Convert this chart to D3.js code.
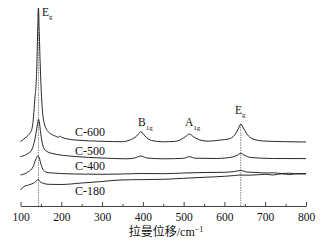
<!DOCTYPE html>
<html>
<head>
<meta charset="utf-8">
<script src="https://cdn.jsdelivr.net/npm/d3@7"></script>
<style>
  body { margin: 0; background: #fff; }
  text { font-family: "Liberation Serif", "Noto Sans CJK SC", serif; fill: #111; }
</style>
</head>
<body>
<div id="chart"></div>
<script>
// raman spectra (intensity in arbitrary units)
const c600Shift = [100,115,123,129,135,140,142,144,146,148.5,152,158,168,185,193,197,201,234,300,350,368,385,395,405,421,450,480,491,505,514,525,540,560,590,610,625,635,640,645,655,670,695,750,800];
const c600Int   = [64.5,69.3,72.7,79,106,139,173,198,173,139,106,83,74.3,70,68.7,70,68.7,66,64.7,64.3,66,70,74.3,70,65.5,64.2,64.7,66,69.5,72,69,66,64.8,66,67,71,78,82,79,72,67,65,64.3,64];

const c500Shift = [100,119,127.5,133,138,142,144,146,149.5,153.5,160,176.5,234,300,360,380,395,410,450,500,514,528,580,620,632,640,648,665,720,800];
const c500Int   = [49.3,52.7,56,62.7,72.7,82.7,86.7,84.3,72.7,62.7,56,52.7,49.5,48,47.2,48,50,48,47.2,47.7,49.3,47.8,47.5,49,51,52.7,51,48.5,47.5,47.4];

const c400Shift = [100,119,131,137,142,145,149.5,156,168,234,300,350,400,450,500,550,600,625,640,655,680,700,720,740,760,780,800];
const c400Int   = [31,34.3,39.3,46,50,49.3,42.7,36,33.3,32,31.7,32,32.5,32.3,33,33.5,33.7,34.5,35.5,34,33.5,33,33.2,32.5,32.8,32,32.4];

const c180Shift = [100,108,120,131,137,141,144,148,156,168,200,250,300,344,400,450,500,550,600,625,640,655,680,700,720,740,760,780,800];
const c180Int   = [16,19.3,21,22.7,24.3,26,26.5,24.3,22.7,21.7,21.5,23,24.5,26,26.4,26.7,27.7,28.7,29.7,30.5,31,30.8,31.2,31.7,31,32.2,31.4,32.5,32];

const sampleNames = ["C-600", "C-500", "C-400", "C-180"];
const xTicks = [100, 200, 300, 400, 500, 600, 700, 800];
const xMinorTicks = [150, 250, 350, 450, 550, 650, 750];
const markerShifts = [144, 640];   // dashed guide lines
const peakNames = [["E", "g", 144], ["B", "1g", 395], ["A", "1g", 514], ["E", "g", 640]];

const svgWidth = 326, svgHeight = 245;

const svg = d3.select("#chart").append("svg")
    .attr("width", svgWidth)
    .attr("height", svgHeight);

const x = d3.scaleLinear().domain([100, 800]).range([20.5, 306]);
const y = d3.scaleLinear().domain([0, 200]).range([206, 6]);

const series = [
    [c600Shift, c600Int],
    [c500Shift, c500Int],
    [c400Shift, c400Int],
    [c180Shift, c180Int]
];

// dashed guides first so the curves sit on top
markerShifts.forEach(s => {
    const i = c600Shift.indexOf(s);
    svg.append("line")
        .attr("x1", x(s)).attr("x2", x(s))
        .attr("y1", y(0)).attr("y2", y(c600Int[i]))
        .attr("stroke", "#666")
        .attr("stroke-width", 0.8)
        .attr("stroke-dasharray", "1.5,1");
});

const line = d3.line()
    .x(d => x(d[0]))
    .y(d => y(d[1]))
    .curve(d3.curveMonotoneX);

series.forEach(([sx, si]) => {
    svg.append("path")
        .datum(d3.zip(sx, si))
        .attr("d", line)
        .attr("fill", "none")
        .attr("stroke", "#111")
        .attr("stroke-width", 0.9);
});

// axis: ticks point up into the plot
svg.append("g")
    .attr("transform", `translate(0,${y(0)})`)
    .call(d3.axisBottom(x).tickValues(xMinorTicks).tickSizeInner(-2).tickSizeOuter(0).tickFormat(""))
    .call(g => g.select(".domain").remove())
    .selectAll("line").attr("stroke", "#444");

const ax = svg.append("g")
    .attr("transform", `translate(0,${y(0)})`)
    .call(d3.axisBottom(x).tickValues(xTicks).tickSizeInner(-4).tickSizeOuter(0).tickPadding(7));
ax.select(".domain").attr("stroke", "#444");
ax.selectAll("line").attr("stroke", "#444");
ax.selectAll("text")
    .style("font-family", "'Liberation Serif', serif")
    .style("font-size", "11.5px")
    .attr("fill", "#111");

const title = svg.append("text")
    .attr("x", 166)
    .attr("y", 236)
    .attr("text-anchor", "middle")
    .style("font-size", "12px");
title.append("tspan").text("拉曼位移/cm");
title.append("tspan").text("−1").attr("dy", -4).style("font-size", "8px");

// sample labels
const labelPos = [[75, 135.5], [75, 154.5], [75, 170], [75, 194.5]];
sampleNames.forEach((n, i) => {
    svg.append("text")
        .attr("x", labelPos[i][0])
        .attr("y", labelPos[i][1])
        .style("font-size", "12px")
        .text(n);
});

// peak assignments
const peakPos = [[42, 15.5], [138, 126], [185, 126], [235, 113.5]];
peakNames.forEach((p, i) => {
    const t = svg.append("text")
        .attr("x", peakPos[i][0])
        .attr("y", peakPos[i][1])
        .style("font-size", "11.5px");
    t.append("tspan").text(p[0]);
    t.append("tspan").text(p[1]).attr("dy", 3.5).style("font-size", "7px");
});
</script>
</body>
</html>
